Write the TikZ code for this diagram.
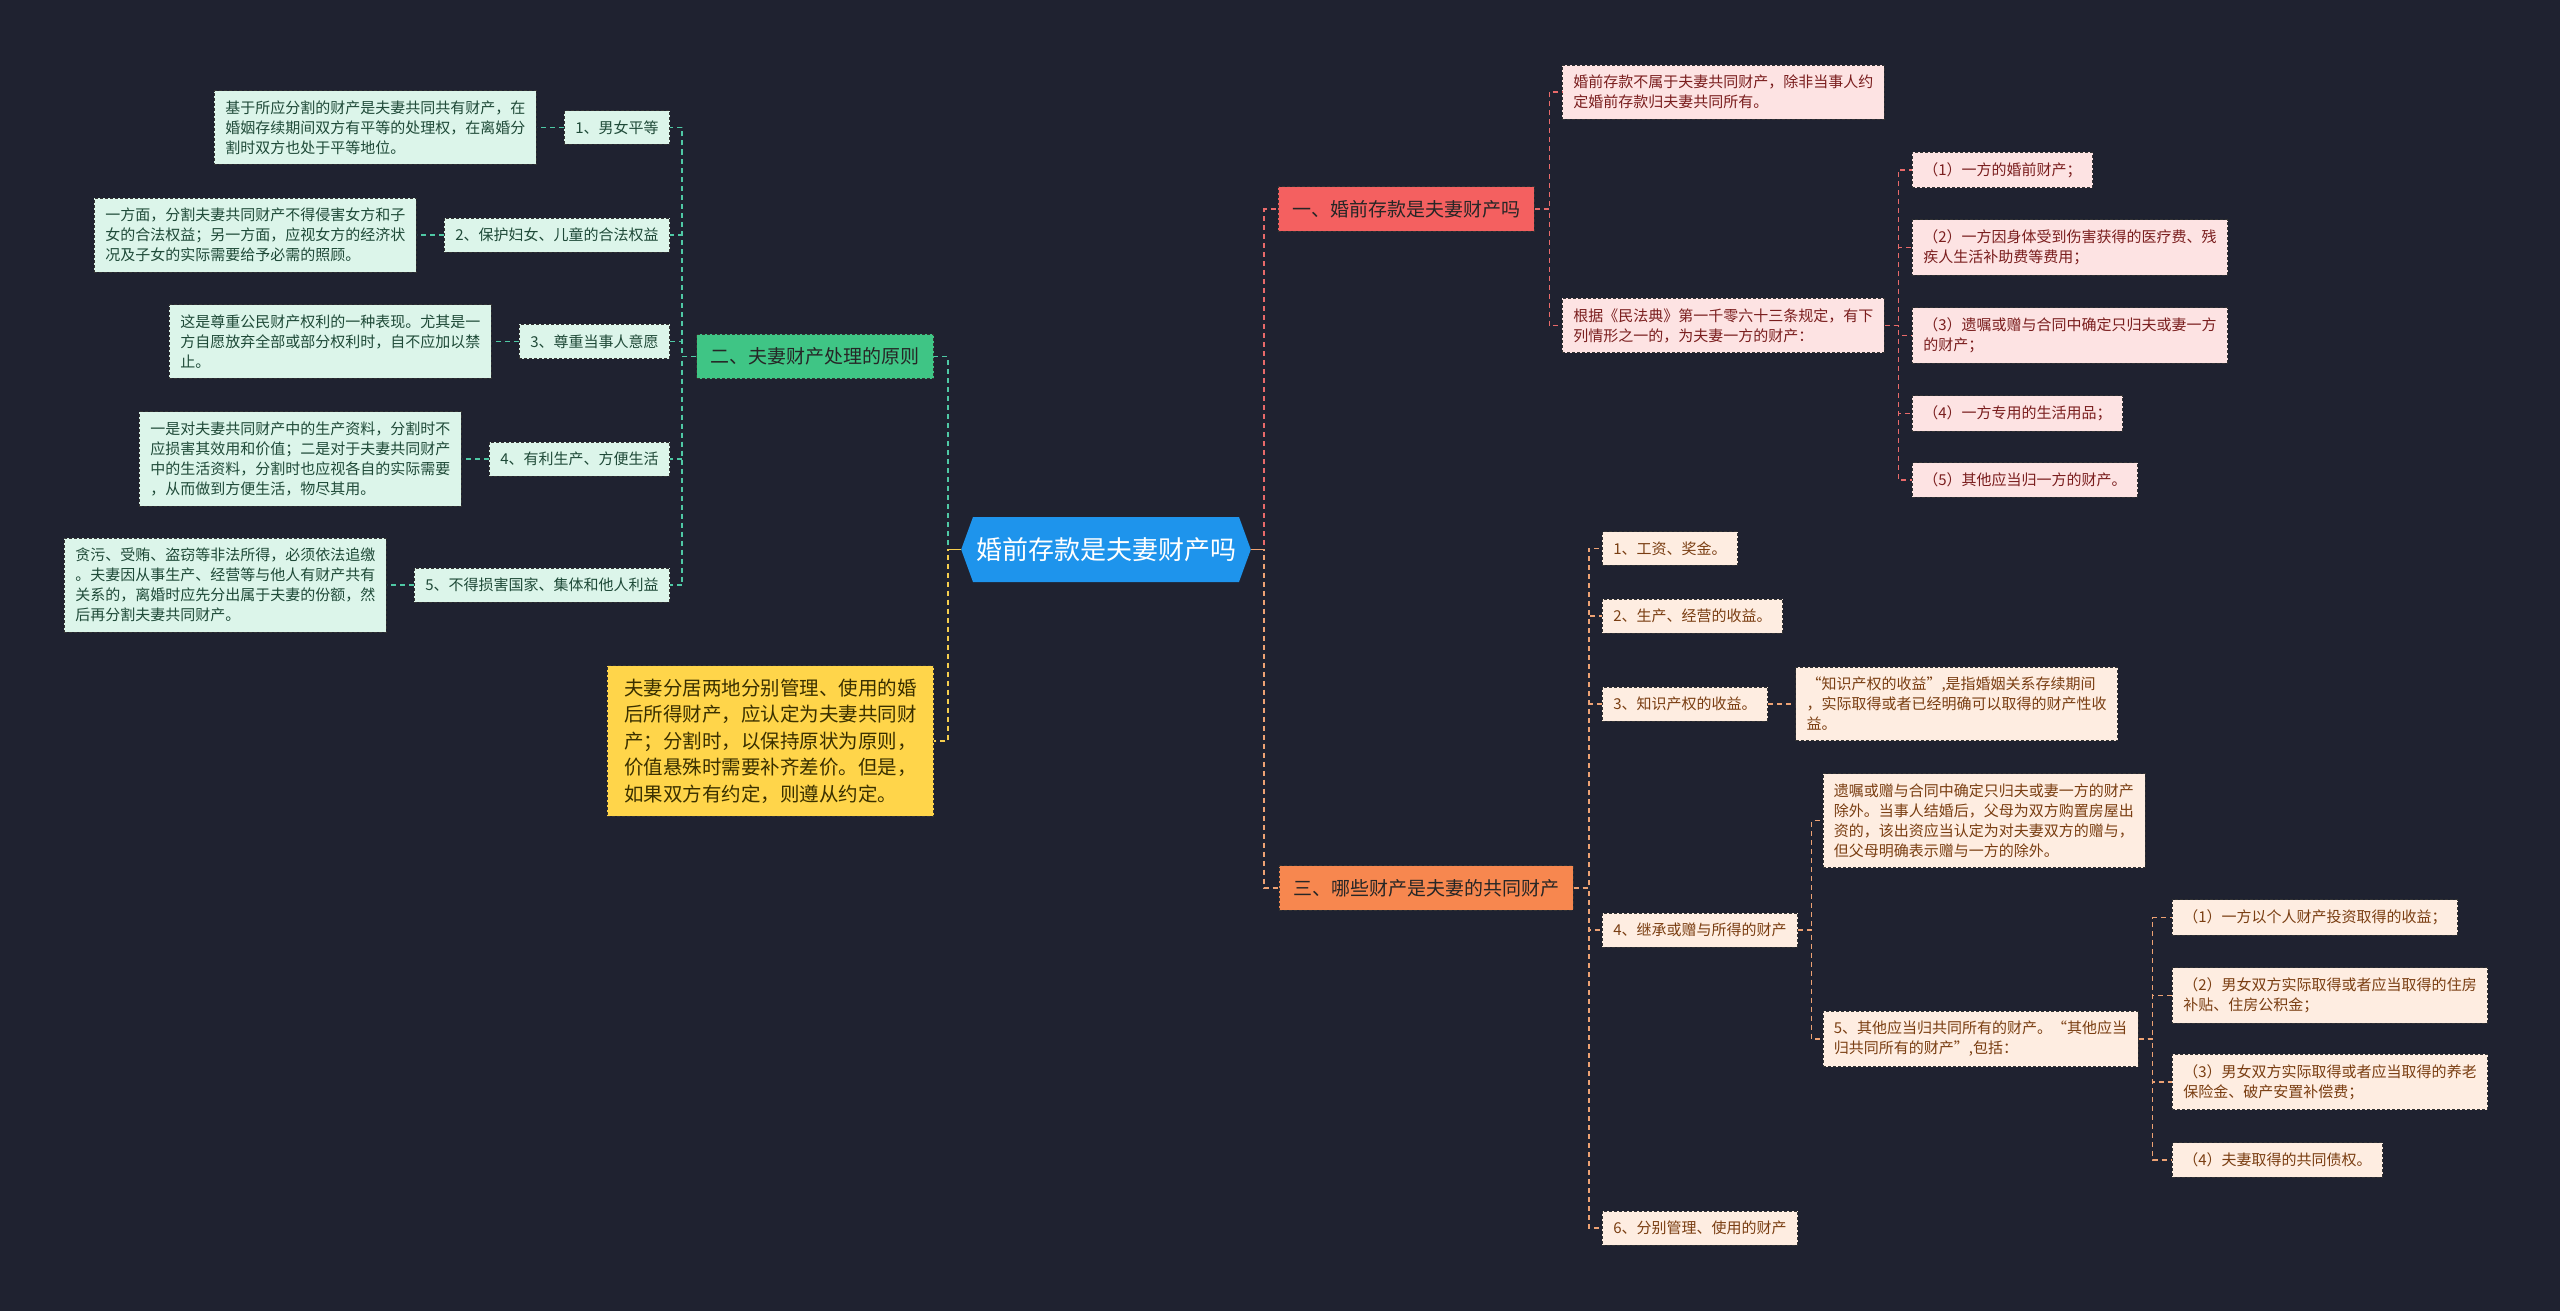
\documentclass[tikz,border=0pt]{standalone}
\usepackage{fontspec}
\setmainfont{Noto Sans CJK SC}
\usetikzlibrary{positioning, shapes.symbols}

\definecolor{bgnavy}{HTML}{1F2230}
\definecolor{rootblue}{HTML}{1E94EC}
\definecolor{redmain}{HTML}{F46060}
\definecolor{redleaf}{HTML}{FDE3E3}
\definecolor{redtext}{HTML}{7A1E1E}
\definecolor{redlink}{HTML}{E86A6A}
\definecolor{orgmain}{HTML}{F7874F}
\definecolor{orgleaf}{HTML}{FEEDE1}
\definecolor{orgtext}{HTML}{7A3E12}
\definecolor{orglink}{HTML}{EDA274}
\definecolor{grnmain}{HTML}{3FC585}
\definecolor{grnleaf}{HTML}{DCF5EA}
\definecolor{grntext}{HTML}{1F4A38}
\definecolor{grnlink}{HTML}{4FC9A5}
\definecolor{ylwmain}{HTML}{FFD54A}
\definecolor{ylwtext}{HTML}{3A3000}
\definecolor{ylwlink}{HTML}{F5CE4E}

\begin{document}
\begin{tikzpicture}[
    x=1pt, y=-1pt,
    box/.style={draw=black!80, dash pattern=on 3pt off 2pt, line width=0.8pt},
    leaf/.style={box, align=left, inner xsep=11pt, inner ysep=10pt,
                 font=\fontsize{15}{20}\selectfont},
    leafg/.style={leaf, fill=grnleaf, text=grntext},
    leafr/.style={leaf, fill=redleaf, text=redtext},
    leafo/.style={leaf, fill=orgleaf, text=orgtext},
    branch/.style={box, inner xsep=14pt, inner ysep=13.5pt,
                   font=\fontsize{19}{24}\selectfont, text=black!85},
    link/.style={line width=1.6pt, dash pattern=on 5pt off 4pt},
    glink/.style={link, draw=grnlink},
    rlink/.style={link, draw=redlink},
    olink/.style={link, draw=orglink},
    ylink/.style={link, draw=ylwlink},
    stub/.style={line width=1.6pt}
  ]
  \useasboundingbox (0,0) rectangle (2560,1311);
  \fill[bgnavy] (0,0) rectangle (2560,1311);

  % root
  \node[signal, signal to=west and east, signal pointer angle=140,
        fill=rootblue, text=white, font=\fontsize{26}{30}\selectfont,
        minimum height=65pt, inner xsep=3pt] (root) at (1106,549.5)
        {婚前存款是夫妻财产吗};

  % left: principles
  \node[branch, fill=grnmain, anchor=east] (er) at (934,356.5)
        {二、夫妻财产处理的原则};
  \node[leafg, anchor=east] (b1) at (670,127.5) {1、男女平等};
  \node[leafg, anchor=east] (b2) at (670,235) {2、保护妇女、儿童的合法权益};
  \node[leafg, anchor=east] (b3) at (670,341.5) {3、尊重当事人意愿};
  \node[leafg, anchor=east] (b4) at (670,459) {4、有利生产、方便生活};
  \node[leafg, anchor=east] (b5) at (670,585) {5、不得损害国家、集体和他人利益};
  \node[leafg, left=27pt of b1] (a1)
        {基于所应分割的财产是夫妻共同共有财产，在\\婚姻存续期间双方有平等的处理权，在离婚分\\割时双方也处于平等地位。};
  \node[leafg, left=27pt of b2] (a2)
        {一方面，分割夫妻共同财产不得侵害女方和子\\女的合法权益；另一方面，应视女方的经济状\\况及子女的实际需要给予必需的照顾。};
  \node[leafg, left=27pt of b3] (a3)
        {这是尊重公民财产权利的一种表现。尤其是一\\方自愿放弃全部或部分权利时，自不应加以禁\\止。};
  \node[leafg, left=27pt of b4] (a4)
        {一是对夫妻共同财产中的生产资料，分割时不\\应损害其效用和价值；二是对于夫妻共同财产\\中的生活资料，分割时也应视各自的实际需要\\，从而做到方便生活，物尽其用。};
  \node[leafg, left=27pt of b5] (a5)
        {贪污、受贿、盗窃等非法所得，必须依法追缴\\。夫妻因从事生产、经营等与他人有财产共有\\关系的，离婚时应先分出属于夫妻的份额，然\\后再分割夫妻共同财产。};

  % left: yellow note
  \node[box, fill=ylwmain, text=ylwtext, align=left, anchor=east,
        inner xsep=17pt, inner ysep=13pt,
        font=\fontsize{19.5}{26.5}\selectfont] (yl) at (934,741)
        {夫妻分居两地分别管理、使用的婚\\后所得财产，应认定为夫妻共同财\\产；分割时，以保持原状为原则，\\价值悬殊时需要补齐差价。但是，\\如果双方有约定，则遵从约定。};

  % right: premarital savings
  \node[branch, fill=redmain, anchor=west] (yi) at (1278,209)
        {一、婚前存款是夫妻财产吗};
  \node[leafr, anchor=west] (c1) at (1562,92)
        {婚前存款不属于夫妻共同财产，除非当事人约\\定婚前存款归夫妻共同所有。};
  \node[leafr, anchor=west] (c2) at (1562,325.5)
        {根据《民法典》第一千零六十三条规定，有下\\列情形之一的，为夫妻一方的财产：};
  \node[leafr, anchor=west] (d1) at (1912,170) {（1）一方的婚前财产；};
  \node[leafr, anchor=west] (d2) at (1912,247.5)
        {（2）一方因身体受到伤害获得的医疗费、残\\疾人生活补助费等费用；};
  \node[leafr, anchor=west] (d3) at (1912,335.5)
        {（3）遗嘱或赠与合同中确定只归夫或妻一方\\的财产；};
  \node[leafr, anchor=west] (d4) at (1912,413.5) {（4）一方专用的生活用品；};
  \node[leafr, anchor=west] (d5) at (1912,480) {（5）其他应当归一方的财产。};

  % right: common property
  \node[branch, fill=orgmain, anchor=west] (san) at (1279,888)
        {三、哪些财产是夫妻的共同财产};
  \node[leafo, anchor=west] (e1) at (1602,548.5) {1、工资、奖金。};
  \node[leafo, anchor=west] (e2) at (1602,616) {2、生产、经营的收益。};
  \node[leafo, anchor=west] (e3) at (1602,704) {3、知识产权的收益。};
  \node[leafo, right=27pt of e3] (f3)
        {“知识产权的收益”,是指婚姻关系存续期间\\，实际取得或者已经明确可以取得的财产性收\\益。};
  \node[leafo, anchor=west] (e4) at (1602,930) {4、继承或赠与所得的财产};
  \node[leafo, anchor=west] (e6) at (1602,1228) {6、分别管理、使用的财产};
  \node[leafo, anchor=west] (g1) at (1822.5,820.5)
        {遗嘱或赠与合同中确定只归夫或妻一方的财产\\除外。当事人结婚后，父母为双方购置房屋出\\资的，该出资应当认定为对夫妻双方的赠与，\\但父母明确表示赠与一方的除外。};
  \node[leafo, anchor=west] (g2) at (1822.5,1039)
        {5、其他应当归共同所有的财产。“其他应当\\归共同所有的财产”,包括：};
  \node[leafo, anchor=west] (h1) at (2172,917.5) {（1）一方以个人财产投资取得的收益；};
  \node[leafo, anchor=west] (h2) at (2172,995.5)
        {（2）男女双方实际取得或者应当取得的住房\\补贴、住房公积金；};
  \node[leafo, anchor=west] (h3) at (2172,1082)
        {（3）男女双方实际取得或者应当取得的养老\\保险金、破产安置补偿费；};
  \node[leafo, anchor=west] (h4) at (2172,1160) {（4）夫妻取得的共同债权。};

  % connectors
  \draw[glink] (root.west) -- ++(-13,0) |- (er.east);
  \draw[ylink] (root.west) -- ++(-13,0) |- (yl.east);
  \draw[rlink] (root.east) -- ++(13,0) |- (yi.west);
  \draw[olink] (root.east) -- ++(13,0) |- (san.west);
  \draw[stub, ylwlink] (root.west) -- ++(-13,0);
  \draw[stub, orglink] (root.east) -- ++(13,0);
  \foreach \n in {1,...,5} {
    \draw[glink] (er.west) -- ++(-14,0) |- (b\n.east);
    \draw[glink] (b\n.west) -- (a\n.east);
  }
  \foreach \n in {c1,c2}
    \draw[rlink] (yi.east) -- ++(14.5,0) |- (\n.west);
  \foreach \n in {d1,d2,d3,d4,d5}
    \draw[rlink] (c2.east) -- ++(13.5,0) |- (\n.west);
  \foreach \n in {e1,e2,e3,e4,e6}
    \draw[olink] (san.east) -- ++(15,0) |- (\n.west);
  \draw[olink] (e3.east) -- (f3.west);
  \foreach \n in {g1,g2}
    \draw[olink] (e4.east) -- ++(13.5,0) |- (\n.west);
  \foreach \n in {h1,h2,h3,h4}
    \draw[olink] (g2.east) -- ++(14,0) |- (\n.west);
\end{tikzpicture}
\end{document}
